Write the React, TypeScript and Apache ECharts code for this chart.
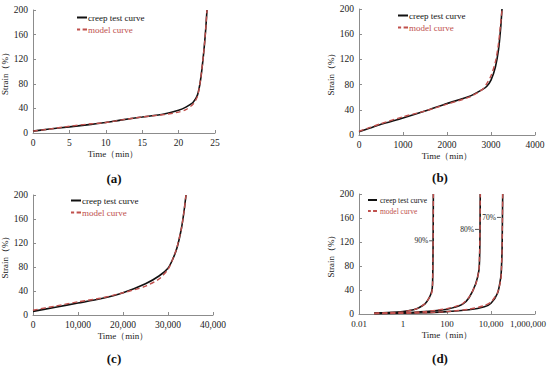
import React, { useEffect, useRef } from "react";
import * as echarts from "echarts";

// Panel (a) – 90% stress level, time in min
const creepA: [number, number][] = [[0, 3], [2, 6], [5, 10], [8, 14], [10, 17], [12, 21], [15, 26], [18, 31], [20, 37], [21, 42], [22, 50], [22.6, 62], [23, 85], [23.4, 125], [23.7, 165], [23.9, 200]];
const modelA: [number, number][] = [[0, 3], [2, 6], [5, 11], [8, 15], [10, 17], [12, 21], [15, 26], [18, 30], [20, 34], [21, 38], [22, 47], [22.6, 60], [23, 85], [23.4, 125], [23.7, 165], [23.9, 200]];
// Panel (b) – 80% stress level
const creepB: [number, number][] = [[0, 5], [250, 11], [500, 17], [1000, 27], [1500, 38], [2000, 50], [2500, 61], [2800, 72], [2900, 77], [3000, 87], [3100, 108], [3170, 135], [3220, 170], [3250, 200]];
const modelB: [number, number][] = [[0, 6], [250, 12], [500, 18], [1000, 29], [1500, 38], [2000, 49], [2500, 60], [2800, 72], [2900, 81], [3000, 94], [3100, 116], [3170, 145], [3220, 178], [3250, 198]];
// Panel (c) – 70% stress level
const creepC: [number, number][] = [[0, 6], [5000, 13], [10000, 20], [15000, 27], [20000, 37], [25000, 52], [28000, 65], [30000, 78], [31000, 92], [32000, 112], [33000, 145], [33600, 175], [34000, 200]];
const modelC: [number, number][] = [[0, 8], [5000, 15], [10000, 22], [15000, 28], [20000, 37], [23000, 43], [25000, 48], [28000, 60], [30000, 76], [31000, 92], [32000, 113], [33000, 145], [33600, 175], [34000, 200]];
// Panel (d) – log time axis, three stress levels
const creepD90: [number, number][] = [[0.05, 2], [0.2, 2.5], [1, 4], [3, 7], [5, 10], [10, 17], [15, 26], [20, 37], [22, 50], [23, 90], [23.5, 140], [24, 200]];
const modelD90: [number, number][] = [[0.05, 1.5], [0.2, 2.2], [1, 3.6], [3, 7], [5, 10], [10, 17], [15, 26], [20, 35], [22, 48], [23, 88], [23.5, 140], [24, 200]];
const creepD80: [number, number][] = [[0.05, 1], [1, 2], [10, 4], [100, 8], [500, 16], [1000, 27], [2000, 50], [2800, 72], [3000, 88], [3150, 130], [3250, 200]];
const modelD80: [number, number][] = [[0.05, 1], [1, 2], [10, 4], [100, 9], [500, 17], [1000, 28], [2000, 49], [2800, 72], [3000, 94], [3150, 135], [3250, 200]];
const creepD70: [number, number][] = [[0.05, 0.5], [10, 2], [100, 4], [1000, 7], [5000, 12], [10000, 18], [20000, 35], [28000, 62], [30000, 78], [32000, 112], [34000, 200]];
const modelD70: [number, number][] = [[0.05, 0.5], [10, 2], [100, 4], [1000, 8], [5000, 14], [10000, 20], [20000, 36], [28000, 58], [30000, 76], [32000, 113], [34000, 200]];
const stressLabels = ["90%", "80%", "70%"];
const stressMarks: [number, number][] = [[19, 122], [2300, 141], [23000, 161]];
const panelLabels = ["(a)", "(b)", "(c)", "(d)"];
const yTicks = [0, 40, 80, 120, 160, 200];

const FONT = "'Liberation Serif', 'Times New Roman', serif";
const AXIS = "#8c8c8c";
const TXT = "#222";
const RED = "#c0504d";
const DASH_ICON = "path://M0,0h5v2h-5zM9,0h7v2h-7z";

export default function App() {
  const ref = useRef<HTMLDivElement>(null);
  useEffect(() => {
    const chart = echarts.init(ref.current!, null, { renderer: "svg" });
    const grids = [
      { left: 33, top: 10, width: 182, height: 123, outerBoundsMode: "none" },
      { left: 359, top: 9, width: 176, height: 126, outerBoundsMode: "none" },
      { left: 33, top: 195, width: 180, height: 120, outerBoundsMode: "none" },
      { left: 359, top: 194, width: 176, height: 120, outerBoundsMode: "none" },
    ];
    const fmtNum = (v: number) => v.toLocaleString("en-US");
    const lab = (fs: number, formatter: any, extra: any = {}) => ({ fontFamily: FONT, fontSize: fs, color: TXT, margin: 5, formatter, ...extra });
    const baseX = (i: number, extra: any) => ({
      gridIndex: i,
      type: "value",
      name: "Time（min）",
      nameLocation: "middle",
      nameGap: 16,
      nameTextStyle: { fontFamily: FONT, fontSize: 9, color: TXT, padding: i === 0 ? [0, 22, 0, 0] : 0 },
      splitLine: { show: false },
      axisLine: { lineStyle: { color: AXIS } },
      axisTick: { show: true, inside: true, length: 3, lineStyle: { color: AXIS } },
      ...extra,
    });
    const logLabel = (v: number) => {
      if (v < 1) return String(v);
      const s = fmtNum(Math.round(v));
      return v >= 1000000 ? "{last|" + s + "}" : s;
    };
    const xAxes = [
      baseX(0, { min: 0, max: 25, interval: 5, axisLabel: lab(9.5, (v: number) => String(v)) }),
      baseX(1, { min: 0, max: 4000, interval: 1000, axisLabel: lab(9.5, (v: number) => String(v)) }),
      baseX(2, { min: 0, max: 40000, interval: 10000, axisLabel: lab(9.5, fmtNum) }),
      baseX(3, {
        type: "log", logBase: 10, min: 0.01, max: 1000000, interval: 2,
        axisLabel: lab(9, logLabel, { rich: { last: { fontFamily: FONT, fontSize: 9, color: TXT, padding: [0, 14, 0, 0] } } }),
        minorTick: { show: false },
      }),
    ];
    const yAxes = grids.map((_, i) => ({
      gridIndex: i,
      type: "value",
      min: yTicks[0],
      max: yTicks[yTicks.length - 1],
      interval: yTicks[1] - yTicks[0],
      name: "Strain（%）",
      nameLocation: "middle",
      nameRotate: 90,
      nameGap: 23,
      nameTextStyle: { fontFamily: FONT, fontSize: 9, color: TXT },
      splitLine: { show: false },
      axisLine: { show: true, lineStyle: { color: AXIS } },
      axisTick: { show: true, inside: true, length: 3, lineStyle: { color: AXIS } },
      axisLabel: lab(9.5, (v: number) => String(v)),
    }));
    const line = (name: string, data: [number, number][], i: number, extra: any = {}) => ({
      type: "line",
      name,
      xAxisIndex: i,
      yAxisIndex: i,
      data,
      smooth: 0.25,
      symbol: "none",
      lineStyle: name === "model curve"
        ? { color: RED, width: 1.4, type: [5, 3] }
        : { color: "#111", width: 1.6 },
      itemStyle: { color: name === "model curve" ? RED : "#111" },
      z: name === "model curve" ? 3 : 2,
      ...extra,
    });
    const C = "creep test curve";
    const M = "model curve";
    const mark = (k: number) => ({
      markPoint: {
        symbol: "rect",
        symbolSize: [4, 1],
        itemStyle: { color: "#555" },
        label: { show: true, position: "left", distance: 1, formatter: stressLabels[k], fontFamily: FONT, fontSize: 7.5, color: TXT },
        data: [{ coord: stressMarks[k] }],
      },
    });
    const series = [
      line(C, creepA, 0), line(M, modelA, 0),
      line(C, creepB, 1), line(M, modelB, 1),
      line(C, creepC, 2), line(M, modelC, 2),
      line(C, creepD90, 3, mark(0)), line(M, modelD90, 3),
      line(C, creepD80, 3, mark(1)), line(M, modelD80, 3),
      line(C, creepD70, 3, mark(2)), line(M, modelD70, 3),
    ];
    const legendPos = [
      { left: 77, top: 13, fs: 9, iw: 10, pad: -4 },
      { left: 398, top: 11, fs: 9, iw: 10, pad: -4 },
      { left: 71, top: 196, fs: 9, iw: 10, pad: -4 },
      { left: 368, top: 196, fs: 7.5, iw: 9, pad: -2 },
    ];
    const legends = legendPos.map((p) => ({
      left: p.left,
      top: p.top,
      orient: "vertical",
      itemWidth: p.iw,
      itemHeight: 2,
      itemGap: 3,
      padding: 0,
      symbolKeepAspect: false,
      textStyle: { fontFamily: FONT, fontSize: p.fs, color: "#111", padding: [0, 0, 0, p.pad] },
      data: [
        { name: C, icon: "rect", itemStyle: { color: "#111" } },
        { name: M, icon: DASH_ICON, itemStyle: { color: RED }, textStyle: { color: RED } },
      ],
    }));
    const labelPos = [[114, 178], [440, 177], [114, 358], [440, 358]];
    chart.setOption({
      animation: false,
      backgroundColor: "#fff",
      grid: grids,
      xAxis: xAxes,
      yAxis: yAxes,
      legend: legends,
      series,
      graphic: panelLabels.map((t, k) => ({
        type: "text",
        x: labelPos[k][0],
        y: labelPos[k][1],
        style: { text: t, fontFamily: FONT, fontSize: 13, fontWeight: "bold", fill: "#111", align: "center", verticalAlign: "middle" },
      })),
    });
    return () => chart.dispose();
  }, []);
  return <div ref={ref} style={{ position: "fixed", left: 0, top: 0, width: 550, height: 366 }} />;
}
